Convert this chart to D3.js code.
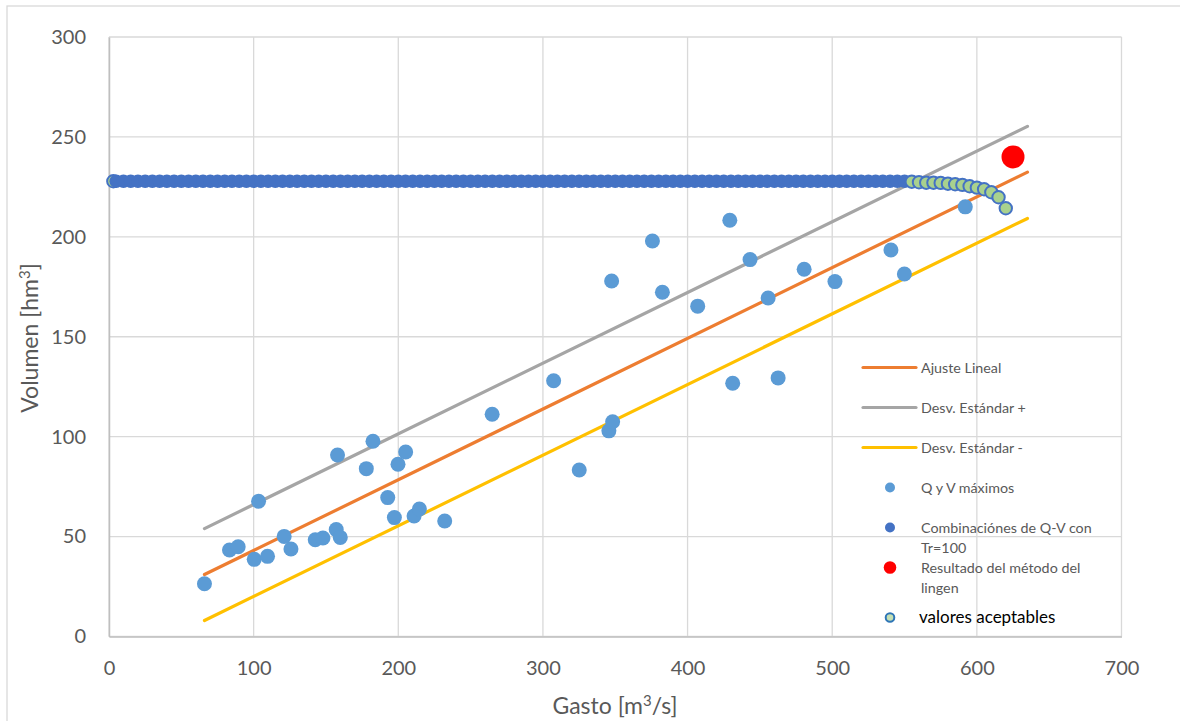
<!DOCTYPE html>
<html><head><meta charset="utf-8">
<script src="https://cdn.jsdelivr.net/npm/d3@7"></script>
<style>body{margin:0;background:#fff;} svg{display:block;font-family:Lato,"Open Sans",sans-serif;}</style>
</head><body>
<svg id="chart" width="1180" height="721"></svg>
<script>
// ---- data ----
const xTicks = [0,100,200,300,400,500,600,700];
const yTicks = [0,50,100,150,200,250,300];

const lineQ  = [66, 635];
const fitV   = [31, 232.4];   // Ajuste Lineal
const upperV = [54, 255.3];   // Desv. Estándar +
const lowerV = [8, 209.2];    // Desv. Estándar -

const obsQ = [66,83.3,89.3,100.4,103.4,109.6,121.1,125.8,142.6,147.9,157.1,158,159.9,177.9,182.5,192.7,197.3,199.8,205.1,210.9,214.6,232.1,264.9,307.4,325.1,345.6,348.2,347.5,375.7,382.6,407,429.2,431.2,443.2,455.7,462.6,480.6,501.9,540.6,549.9,592];
const obsV = [26.4,43.3,44.9,38.6,67.7,40.1,50.1,43.8,48.4,49.3,53.5,90.8,49.6,84,97.7,69.5,59.5,86.2,92.3,60.3,63.8,57.8,111.2,128,83.3,102.9,107.5,177.9,197.9,172.3,165.3,208.3,126.7,188.6,169.4,129.4,183.8,177.6,193.4,181.4,215];

const comboQ = [5,10,15,20,25,30,35,40,45,50,
  55,60,65,70,75,80,85,90,95,100,
  105,110,115,120,125,130,135,140,145,150,
  155,160,165,170,175,180,185,190,195,200,
  205,210,215,220,225,230,235,240,245,250,
  255,260,265,270,275,280,285,290,295,300,
  305,310,315,320,325,330,335,340,345,350,
  355,360,365,370,375,380,385,390,395,400,
  405,410,415,420,425,430,435,440,445,450,
  455,460,465,470,475,480,485,490,495,500,
  505,510,515,520,525,530,535,540,545,550];
const comboV = [227.8,227.8,227.8,227.8,227.8,227.8,227.8,227.8,227.8,227.8,
  227.8,227.8,227.8,227.8,227.8,227.8,227.8,227.8,227.8,227.8,
  227.8,227.8,227.8,227.8,227.8,227.8,227.8,227.8,227.8,227.8,
  227.8,227.8,227.8,227.8,227.8,227.8,227.8,227.8,227.8,227.8,
  227.8,227.8,227.8,227.8,227.8,227.8,227.8,227.8,227.8,227.8,
  227.8,227.8,227.8,227.8,227.8,227.8,227.8,227.8,227.8,227.8,
  227.8,227.8,227.8,227.8,227.8,227.8,227.8,227.8,227.8,227.8,
  227.8,227.8,227.8,227.8,227.8,227.8,227.8,227.8,227.8,227.8,
  227.8,227.8,227.8,227.8,227.8,227.8,227.8,227.8,227.8,227.8,
  227.8,227.8,227.8,227.8,227.8,227.8,227.8,227.8,227.8,227.8,
  227.8,227.8,227.8,227.8,227.8,227.8,227.8,227.8,227.8,227.8];

const acceptQ = [3,555,560,565,570,575,580,585,590,595,600,605,610,615,620];
const acceptV = [227.8,227.6,227.3,227.1,227.1,227.0,226.6,226.3,226.0,225.3,224.6,223.8,222.3,219.8,214.3];

const lingenQ = [625];
const lingenV = [240];

const legendLabels = ["Ajuste Lineal","Desv. Estándar +","Desv. Estándar -","Q y V máximos",["Combinaciónes de Q-V con","Tr=100"],["Resultado del método del","lingen"],"valores aceptables"];

// ---- chart ----
const svg = d3.select("#chart");
const L = 109, R = 1121.5, T = 37, B = 636.5;
const x = d3.scaleLinear().domain([0,700]).range([L,R]);
const y = d3.scaleLinear().domain([0,300]).range([B,T]);

// outer chart border
svg.append("rect").attr("x",7).attr("y",6).attr("width",1200).attr("height",760)
  .attr("fill","none").attr("stroke","#D9D9D9").attr("stroke-width",1.3);

// gridlines
svg.append("g").selectAll("line.v").data(xTicks).join("line")
  .attr("x1",d=>x(d)).attr("x2",d=>x(d)).attr("y1",T).attr("y2",B)
  .attr("stroke","#D9D9D9").attr("stroke-width",1.3);
svg.append("g").selectAll("line.h").data(yTicks).join("line")
  .attr("x1",L).attr("x2",R).attr("y1",d=>y(d)).attr("y2",d=>y(d))
  .attr("stroke","#D9D9D9").attr("stroke-width",1.3);

// axis lines
const xAxis = svg.append("g").attr("transform",`translate(0,${B})`)
  .call(d3.axisBottom(x).tickValues(xTicks).tickSize(0).tickPadding(24));
xAxis.select(".domain").attr("stroke","#BFBFBF").attr("stroke-width",1.5);
xAxis.selectAll("text").attr("font-size",20).attr("fill","#595959").attr("font-family","Lato");
const yAxis = svg.append("g").attr("transform",`translate(${L},0)`)
  .call(d3.axisLeft(y).tickValues(yTicks).tickSize(0).tickPadding(23));
yAxis.select(".domain").attr("stroke","#BFBFBF").attr("stroke-width",1.5);
yAxis.selectAll("text").attr("font-size",20).attr("fill","#595959").attr("font-family","Lato");

// axis titles
const xt = svg.append("text").attr("x",615).attr("y",714).attr("text-anchor","middle")
  .attr("font-size",23).attr("fill","#595959");
xt.append("tspan").text("Gasto [m");
xt.append("tspan").text("3").attr("font-size",15).attr("dy",-8);
xt.append("tspan").text("/s]").attr("dy",8);
const yt = svg.append("text").attr("transform","translate(38,338) rotate(-90)").attr("text-anchor","middle")
  .attr("font-size",23).attr("fill","#595959");
yt.append("tspan").text("Volumen [hm");
yt.append("tspan").text("3").attr("font-size",15).attr("dy",-8);
yt.append("tspan").text("]").attr("dy",8);

// trend lines
const lineGen = d3.line().x(d=>x(d[0])).y(d=>y(d[1]));
const lines = [[fitV,"#ED7D31"],[upperV,"#A5A5A5"],[lowerV,"#FFC000"]];
lines.forEach(([vals,col])=>{
  svg.append("path").datum(lineQ.map((q,i)=>[q,vals[i]])).attr("d",lineGen)
    .attr("fill","none").attr("stroke",col).attr("stroke-width",3.2).attr("stroke-linecap","round");
});

// observed points
svg.append("g").selectAll("circle").data(obsQ.map((q,i)=>[q,obsV[i]])).join("circle")
  .attr("cx",d=>x(d[0])).attr("cy",d=>y(d[1])).attr("r",7.5).attr("fill","#5B9BD5");

// acceptable values lying under the combination series
const acc = acceptQ.map((q,i)=>[q,acceptV[i]]);
const maxCombo = d3.max(comboQ);
function drawAcc(g,data){
  g.selectAll("circle").data(data).join("circle")
    .attr("cx",d=>x(d[0])).attr("cy",d=>y(d[1])).attr("r",6.2)
    .attr("fill","#A9D18E").attr("stroke","#4472C4").attr("stroke-width",2);
}
drawAcc(svg.append("g"), acc.filter(d=>d[0]<=maxCombo));

// combinations Q-V Tr=100
svg.append("g").selectAll("circle").data(comboQ.map((q,i)=>[q,comboV[i]])).join("circle")
  .attr("cx",d=>x(d[0])).attr("cy",d=>y(d[1])).attr("r",6.8).attr("fill","#4472C4");

// lingen result
svg.append("g").selectAll("circle").data(lingenQ.map((q,i)=>[q,lingenV[i]])).join("circle")
  .attr("cx",d=>x(d[0])).attr("cy",d=>y(d[1])).attr("r",11.5).attr("fill","#FF0000");

// acceptable values on top
drawAcc(svg.append("g"), acc.filter(d=>d[0]>maxCombo));

// legend
const lg = svg.append("g");
const ly = [367.5,407.5,447.5,487.5,527.5,567.5,617.5];
const symX1 = 863, symX2 = 916, symC = 890, tx = 921;
[["#ED7D31"],["#A5A5A5"],["#FFC000"]].forEach((c,i)=>{
  lg.append("line").attr("x1",symX1).attr("x2",symX2).attr("y1",ly[i]).attr("y2",ly[i])
    .attr("stroke",c[0]).attr("stroke-width",3.2).attr("stroke-linecap","round");
});
lg.append("circle").attr("cx",symC).attr("cy",ly[3]).attr("r",5).attr("fill","#5B9BD5");
lg.append("circle").attr("cx",symC).attr("cy",ly[4]).attr("r",5).attr("fill","#4472C4");
lg.append("circle").attr("cx",symC).attr("cy",ly[5]).attr("r",6.3).attr("fill","#FF0000");
lg.append("circle").attr("cx",symC).attr("cy",ly[6]).attr("r",4.3)
  .attr("fill","#C5E0B4").attr("stroke","#2E75B6").attr("stroke-width",2);
legendLabels.forEach((lab,i)=>{
  const last = i===legendLabels.length-1;
  const t = lg.append("text").attr("x",last?919:tx).attr("y",ly[i]+5)
    .attr("font-size",last?17:14.3).attr("fill",last?"#000":"#595959");
  if(Array.isArray(lab)){
    lab.forEach((s,j)=>t.append("tspan").attr("x",tx).attr("dy",j?20:0).text(s));
  } else t.text(lab);
});
</script>
</body></html>
